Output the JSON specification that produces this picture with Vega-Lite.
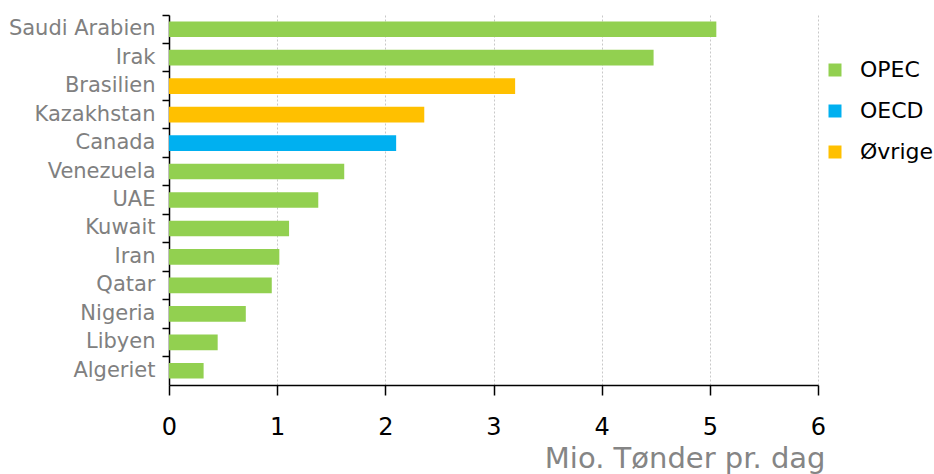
{
  "$schema": "https://vega.github.io/schema/vega-lite/v6.json",
  "autosize": "none",
  "padding": {"left": 169, "top": 15, "right": 116, "bottom": 89},
  "width": 649,
  "height": 370,
  "background": "white",
  "config": {"font": "DejaVu Sans", "view": {"stroke": null}},
  "data": {"values": [
    {"land": "Saudi Arabien", "v": 5.06, "gruppe": "OPEC"},
    {"land": "Irak", "v": 4.48, "gruppe": "OPEC"},
    {"land": "Brasilien", "v": 3.2, "gruppe": "Øvrige"},
    {"land": "Kazakhstan", "v": 2.36, "gruppe": "Øvrige"},
    {"land": "Canada", "v": 2.1, "gruppe": "OECD"},
    {"land": "Venezuela", "v": 1.62, "gruppe": "OPEC"},
    {"land": "UAE", "v": 1.38, "gruppe": "OPEC"},
    {"land": "Kuwait", "v": 1.11, "gruppe": "OPEC"},
    {"land": "Iran", "v": 1.02, "gruppe": "OPEC"},
    {"land": "Qatar", "v": 0.95, "gruppe": "OPEC"},
    {"land": "Nigeria", "v": 0.71, "gruppe": "OPEC"},
    {"land": "Libyen", "v": 0.45, "gruppe": "OPEC"},
    {"land": "Algeriet", "v": 0.32, "gruppe": "OPEC"}
  ]},
  "mark": {"type": "bar", "height": {"band": 0.55}},
  "encoding": {
    "y": {
      "field": "land", "type": "nominal", "sort": null,
      "scale": {"paddingInner": 0, "paddingOuter": 0},
      "axis": {
        "title": null, "bandPosition": 0, "domainColor": "#000", "domainWidth": 1.5,
        "tickColor": "#000", "tickSize": 7, "tickWidth": 1.5,
        "labelColor": "#808080", "labelFontSize": 21, "labelPadding": 7, "labelBound": false,
        "labelDy": 2
      }
    },
    "x": {
      "field": "v", "type": "quantitative",
      "scale": {"domain": [0, 6], "nice": false},
      "axis": {
        "values": [0, 1, 2, 3, 4, 5, 6],
        "title": "Mio. Tønder pr. dag", "titleAnchor": null, "titleAlign": "right", "titleBaseline": "alphabetic",
        "titleX": 656, "titleY": 82,
        "titleColor": "#858585", "titleFontSize": 29, "titleFontWeight": "normal",
        "domainColor": "#000", "domainWidth": 1.5,
        "tickColor": "#000", "tickSize": 10, "tickWidth": 1.5,
        "labelColor": "#000", "labelFontSize": 24, "labelPadding": 20, "labelFlush": false,
        "grid": true, "gridColor": "#c8c8c8", "gridDash": [2, 2]
      }
    },
    "color": {
      "field": "gruppe", "type": "nominal",
      "scale": {"domain": ["OPEC", "OECD", "Øvrige"], "range": ["#92D050", "#00B0F0", "#FFC000"]},
      "legend": {
        "title": null, "orient": "none", "legendX": 655, "legendY": 44,
        "symbolType": "square", "symbolSize": 169, "symbolStrokeWidth": 0,
        "labelFontSize": 22, "labelColor": "#000", "rowPadding": 19, "labelOffset": 14
      }
    }
  }
}
